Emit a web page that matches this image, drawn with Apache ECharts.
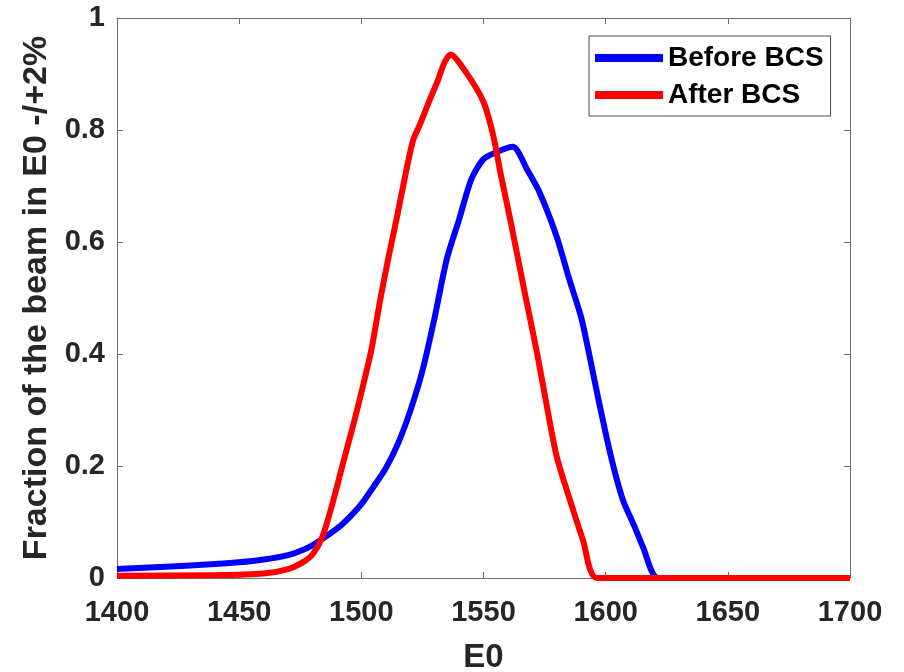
<!DOCTYPE html>
<html>
<head>
<meta charset="utf-8">
<script src="https://cdn.jsdelivr.net/npm/echarts@6/dist/echarts.min.js"></script>
<style>
  html, body { margin: 0; padding: 0; background: #fff; }
  #chart { width: 904px; height: 672px; }
</style>
</head>
<body>
<div id="chart"></div>
<script>
// Beam energy (E0) sample points and the fraction of the beam within E0 -/+2%
const beforeE = [1400, 1420, 1440, 1450, 1460, 1470, 1477, 1482, 1490, 1495, 1500, 1505, 1510, 1515, 1520,
                 1525, 1530, 1535, 1540, 1545, 1550, 1555, 1562, 1568, 1573, 1580, 1585, 1590, 1593,
                 1596.5, 1602, 1607, 1612, 1615.3, 1621.5, 1650, 1700];
const beforeFrac = [0.016, 0.020, 0.025, 0.028, 0.033, 0.041, 0.052, 0.064, 0.088, 0.108, 0.132, 0.163, 0.196, 0.240, 0.298,
                    0.370, 0.465, 0.570, 0.640, 0.712, 0.748, 0.760, 0.770, 0.728, 0.688, 0.609, 0.535, 0.465, 0.405,
                    0.330, 0.220, 0.140, 0.090, 0.055, 0.000, 0.000, 0.000];

const afterE = [1400, 1440, 1460, 1470, 1476, 1480, 1484, 1488, 1492.5, 1496.6, 1499.5, 1504, 1507.7, 1511, 1514.6,
                1518.7, 1521.2, 1524, 1528, 1531, 1534, 1536.5, 1543, 1550, 1554, 1557, 1561, 1566.4,
                1572, 1576, 1580, 1585.4, 1590.7, 1596.5, 1650, 1700];
const afterFrac = [0.004, 0.005, 0.008, 0.016, 0.028, 0.042, 0.073, 0.130, 0.205, 0.272, 0.322, 0.405, 0.496, 0.570, 0.645,
                   0.734, 0.782, 0.810, 0.854, 0.885, 0.920, 0.935, 0.902, 0.850, 0.790, 0.722, 0.639, 0.520,
                   0.400, 0.305, 0.216, 0.139, 0.068, 0.000, 0.000, 0.000];

const seriesNames = ['Before BCS', 'After BCS'];
const xTitle = 'E0';
const yTitle = 'Fraction of the beam in E0 -/+2%';

const pairs = (xs, ys) => xs.map((x, i) => [x, ys[i]]);

const FONT = '"Liberation Sans", Arial, Helvetica, sans-serif';
const INK = '#262626';
const AXIS = '#6e6e6e';

const chart = echarts.init(document.getElementById('chart'), null, { renderer: 'canvas' });

const tickStyle = { show: true, inside: true, length: 6, lineStyle: { color: AXIS, width: 1 } };
const lineAxis = { show: true, onZero: false, lineStyle: { color: AXIS, width: 1 } };

chart.setOption({
  animation: false,
  backgroundColor: '#ffffff',
  grid: { left: 117, right: 54, top: 18, bottom: 94, containLabel: false, outerBoundsMode: 'none' },
  legend: {
    data: seriesNames,
    orient: 'vertical',
    left: 589,
    top: 36,
    padding: [8, 7, 7, 6],
    itemGap: 9,
    itemWidth: 68,
    itemHeight: 8,
    icon: 'rect',
    backgroundColor: '#ffffff',
    borderColor: '#4d4d4d',
    borderWidth: 1,
    textStyle: { fontFamily: FONT, fontWeight: 'bold', fontSize: 28, color: '#000' }
  },
  xAxis: [
    {
      type: 'value', min: 1400, max: 1700, interval: 50, position: 'bottom',
      axisLine: lineAxis, axisTick: tickStyle, splitLine: { show: false },
      axisLabel: { margin: 20, fontFamily: FONT, fontWeight: 'bold', fontSize: 29, color: INK,
                   formatter: v => String(v) },
      name: xTitle, nameLocation: 'middle', nameGap: 63,
      nameTextStyle: { fontFamily: FONT, fontWeight: 'bold', fontSize: 33, color: INK }
    },
    {
      type: 'value', min: 1400, max: 1700, interval: 50, position: 'top',
      axisLine: lineAxis, axisTick: tickStyle, axisLabel: { show: false }, splitLine: { show: false }
    }
  ],
  yAxis: [
    {
      type: 'value', min: 0, max: 1, interval: 0.2, position: 'left',
      axisLine: lineAxis, axisTick: tickStyle, splitLine: { show: false },
      axisLabel: { margin: 12, fontFamily: FONT, fontWeight: 'bold', fontSize: 29, color: INK },
      name: yTitle, nameLocation: 'middle', nameGap: 62, nameRotate: 90,
      nameTextStyle: { fontFamily: FONT, fontWeight: 'bold', fontSize: 34, color: INK }
    },
    {
      type: 'value', min: 0, max: 1, interval: 0.2, position: 'right',
      axisLine: lineAxis, axisTick: tickStyle, axisLabel: { show: false }, splitLine: { show: false }
    }
  ],
  series: [
    {
      name: seriesNames[0], type: 'line', data: pairs(beforeE, beforeFrac),
      showSymbol: false, symbol: 'none', clip: false, z: 3, smooth: 0.25,
      itemStyle: { color: '#0000ff' },
      lineStyle: { color: '#0000ff', width: 6, join: 'round' }
    },
    {
      name: seriesNames[1], type: 'line', data: pairs(afterE, afterFrac),
      showSymbol: false, symbol: 'none', clip: false, z: 4, smooth: 0.25,
      itemStyle: { color: '#ff0000' },
      lineStyle: { color: '#ff0000', width: 6, join: 'round' }
    }
  ]
});
</script>
</body>
</html>
